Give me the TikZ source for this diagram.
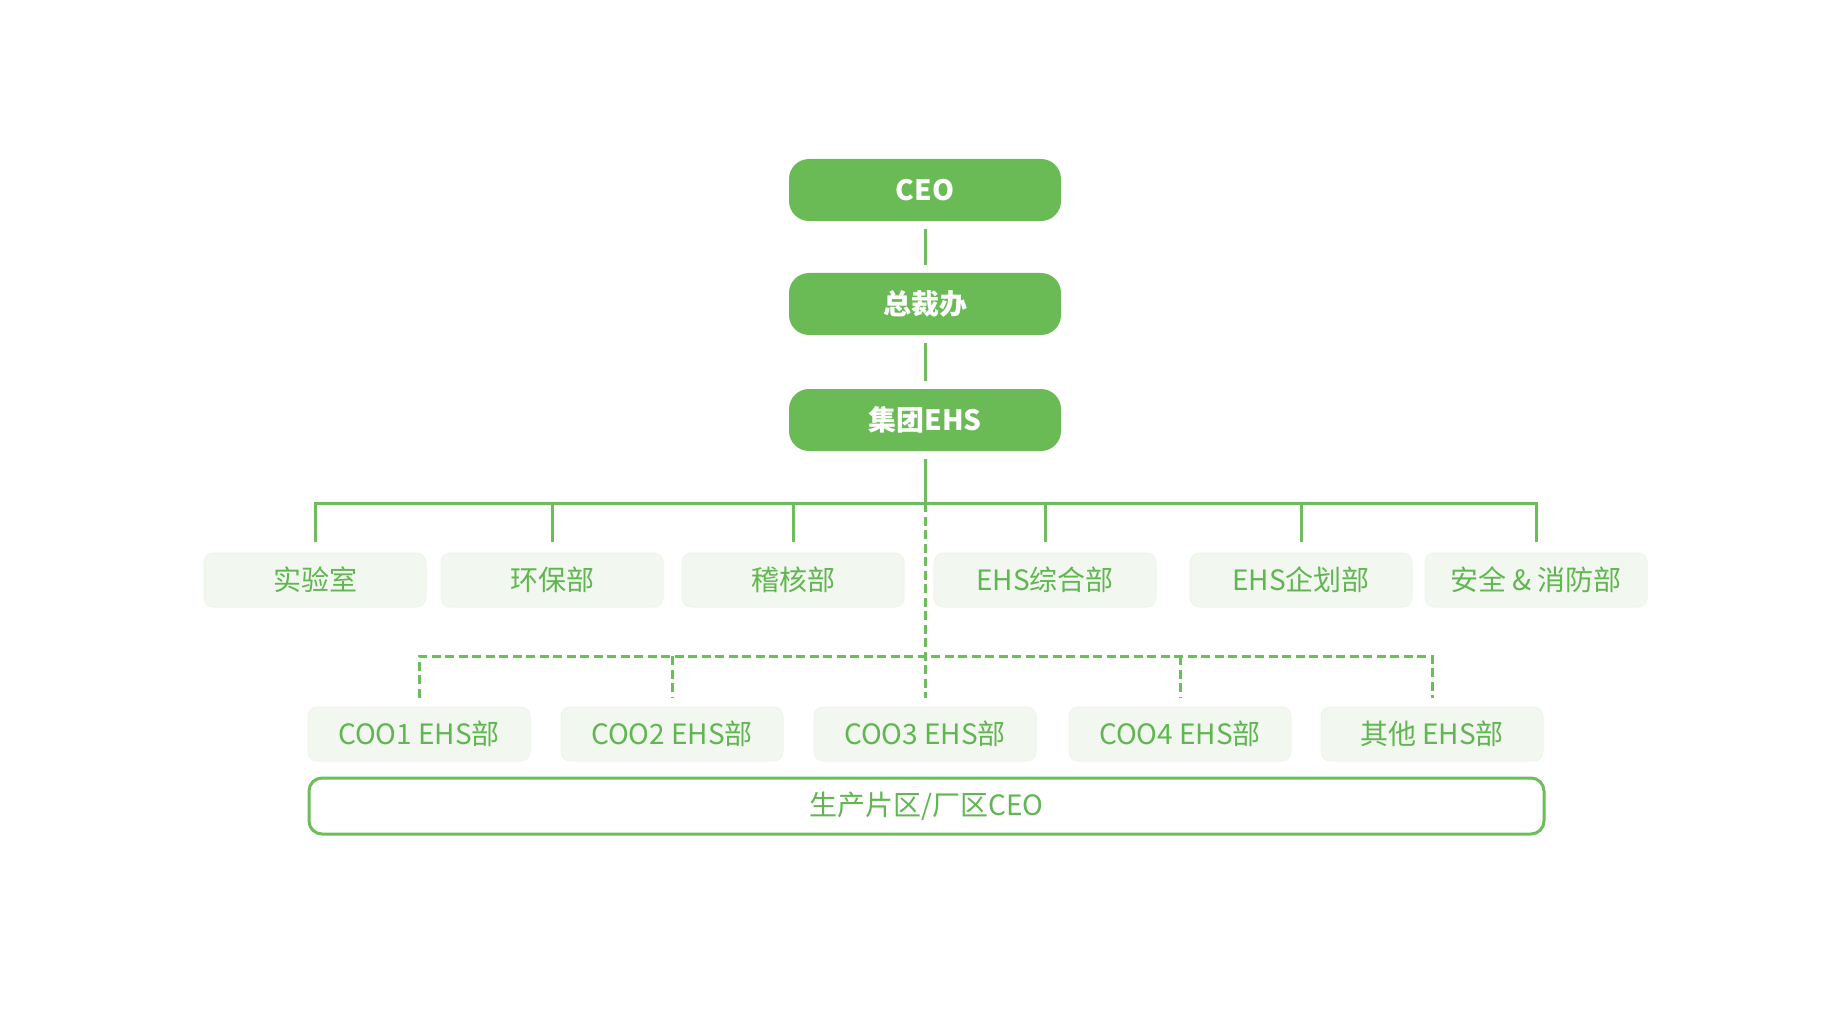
\documentclass[tikz,border=0pt]{standalone}
\usepackage{fontspec}
\setmainfont{Noto Sans CJK SC}
\usetikzlibrary{calc}
\definecolor{gdark}{RGB}{106,186,86}
\definecolor{gline}{RGB}{108,190,90}
\definecolor{gtext}{RGB}{96,182,80}
\definecolor{glight}{RGB}{242,247,240}
\definecolor{gedge}{RGB}{238,245,235}
\tikzset{
  topbox/.style={fill=gdark, draw=none, rounded corners=20pt, minimum width=272pt, minimum height=62pt, inner sep=0pt, text=white, font=\fontsize{28pt}{32pt}\selectfont\bfseries},
  deptbox/.style={fill=glight, draw=gedge, line width=1pt, rounded corners=9pt, minimum width=222pt, minimum height=54pt, inner sep=0pt, text=gtext, font=\fontsize{28pt}{32pt}\selectfont},
  basebox/.style={fill=white, draw=gline, line width=3pt, rounded corners=13pt, minimum width=1235pt, minimum height=56pt, inner sep=0pt, text=gtext, font=\fontsize{28pt}{32pt}\selectfont},
  conn/.style={draw=gline, line width=3pt},
  dconn/.style={draw=gline, line width=3pt, dash pattern=on 9pt off 4.5pt},
}
\begin{document}
\begin{tikzpicture}[x=1pt,y=-1pt]
\useasboundingbox (0,0) rectangle (1848,1016);
% top chain
\node[topbox] (ceo) at (925,190) {CEO};
\node[topbox] (zcb) at (925,304) {总裁办};
\node[topbox] (jt) at (925,420) {集团EHS};
% row 1
\node[deptbox] (lab) at (315,580) {实验室};
\node[deptbox] (env) at (552,580) {环保部};
\node[deptbox] (aud) at (793,580) {稽核部};
\node[deptbox] (zh) at (1045,580) {EHS综合部};
\node[deptbox] (qh) at (1301,580) {EHS企划部};
\node[deptbox] (safe) at (1536,580) {安全 \& 消防部};
% row 2
\node[deptbox] (c1) at (419,734) {COO1 EHS部};
\node[deptbox] (c2) at (672,734) {COO2 EHS部};
\node[deptbox] (c3) at (925,734) {COO3 EHS部};
\node[deptbox] (c4) at (1180,734) {COO4 EHS部};
\node[deptbox] (c5) at (1432,734) {其他 EHS部};
% base
\node[basebox] (base) at (926.5,806) {生产片区/厂区CEO};
% coordinates
\coordinate (hub) at (925,503);
\coordinate (dhub) at (925,656);
% connectors
\draw[conn, shorten <=8pt, shorten >=8pt] (ceo) -- (zcb);
\draw[conn, shorten <=8pt, shorten >=8pt] (zcb) -- (jt);
\draw[conn, shorten <=8pt] (jt) -- (hub);
\draw[conn] ([yshift=11pt]lab.north) -- (hub -| lab) -- (hub -| safe) -- ([yshift=11pt]safe.north);
\foreach \n in {env,aud,zh,qh}{
  \draw[conn] (hub -| \n) -- ([yshift=11pt]\n.north);
}
\draw[dconn] (hub) -- ([yshift=9pt]c3.north);
\draw[dconn] ([yshift=9pt]c1.north) -- (dhub -| c1) -- (dhub -| c5) -- ([yshift=9pt]c5.north);
\foreach \n in {c2,c4}{
  \draw[dconn] (dhub -| \n) -- ([yshift=9pt]\n.north);
}
\end{tikzpicture}
\end{document}
